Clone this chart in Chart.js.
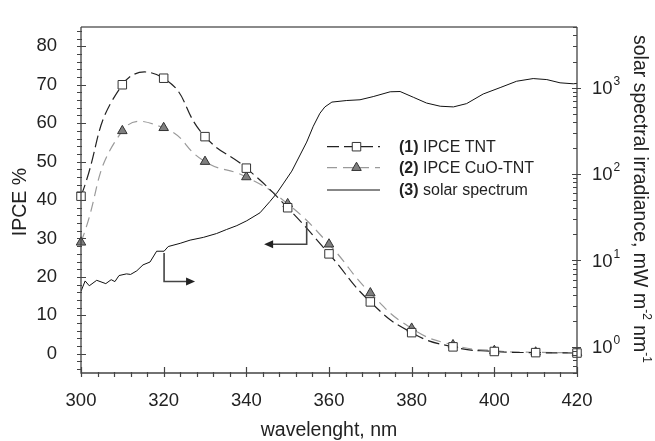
<!DOCTYPE html>
<html>
<head>
<meta charset="utf-8">
<script src="https://cdn.jsdelivr.net/npm/chart.js@4/dist/chart.umd.min.js"></script>
<style>
  html, body { margin: 0; padding: 0; background: #fff; }
  #c { display: block; }
</style>
</head>
<body>
<canvas id="c" width="655" height="441"></canvas>
<script>
// IPCE data
let wavelengths = [300, 310, 320, 330, 340, 350, 360, 370, 380, 390, 400, 410, 420];
let ipceTNT = [41, 70, 71.7, 56.5, 48.3, 38, 26, 13.5, 5.5, 1.8, 0.6, 0.3, 0.2];
let ipceCuO = [29, 58, 58.8, 50, 46, 39, 28.5, 15.8, 6.6, 2.3, 0.8, 0.4, 0.3];

// solar spectrum (right, log axis)
let solarWl = [300, 301, 302, 303.8, 306, 307.3, 308.2, 309.2, 311, 312, 313.5, 315, 316.7, 318.3, 320.1, 321.1,
  324, 326.4, 329.6, 332.8, 335.2, 337.7, 340.1, 343.3, 345.7, 347.3, 348.9, 351, 353, 354.6, 356.2, 357.8,
  359, 360.7, 364.3, 367.5, 370.7, 374.8, 377.2, 380.4, 383.6, 386.9, 390.1, 393.3, 397.3, 401.4, 405.4,
  409.4, 412.7, 415.9, 419.1, 420];
let solarIrr = [4.4, 5.8, 5.1, 5.9, 5.4, 6.0, 5.7, 6.7, 7.0, 6.9, 7.6, 8.9, 9.6, 12.8, 12.8, 14.5,
  15.8, 17.2, 18.5, 20.5, 22.8, 25.3, 28.8, 35.6, 48.1, 59.4, 76.8, 108, 166, 234, 357, 504,
  597, 679, 708, 722, 786, 893, 900, 772, 662, 608, 597, 652, 842, 998, 1183,
  1270, 1236, 1134, 1105, 1116];

// tick labels
let xTicks = [300, 320, 340, 360, 380, 400, 420];
let yTicks = [0, 10, 20, 30, 40, 50, 60, 70, 80];
let y2Exps = [0, 1, 2, 3];

let legendLabels = [['(1)', ' IPCE TNT'], ['(2)', ' IPCE CuO-TNT'], ['(3)', ' solar spectrum']];

// arrows pointing to the axis each curve belongs to: [x1,y1,x2,y2,x3,y3] in data units of the left axis
let arrowPaths = [
  [320.1, 26.2, 320.1, 18.8, 327.6, 18.8],
  [354.6, 34.3, 354.6, 28.5, 344.3, 28.5]
];

const FONT = '"Liberation Sans", Arial, sans-serif';
const TICK_PX = 18.5;
const TITLE_PX = 19.5;

function pairs(xs, ys) {
  return xs.map(function(v, i) { return {x: v, y: ys[i]}; });
}

function arrowHead(ctx, x, y, dir) {
  ctx.beginPath();
  ctx.moveTo(x, y);
  ctx.lineTo(x - dir * 9, y - 4);
  ctx.lineTo(x - dir * 9, y + 4);
  ctx.closePath();
  ctx.fill();
}

const deco = {
  id: 'deco',
  afterDraw(chart) {
    let ctx = chart.ctx;
    let a = chart.chartArea;
    let sx = chart.scales.x, sy = chart.scales.y, sy2 = chart.scales.y2;
    ctx.save();

    // frame
    ctx.strokeStyle = '#8a8a8a';
    ctx.lineWidth = 2;
    ctx.beginPath();
    ctx.moveTo(a.left, a.top); ctx.lineTo(a.right, a.top);
    ctx.stroke();
    ctx.strokeStyle = '#444';
    ctx.lineWidth = 1.3;
    ctx.beginPath();
    ctx.moveTo(a.left, a.top); ctx.lineTo(a.left, a.bottom); ctx.lineTo(a.right, a.bottom); ctx.lineTo(a.right, a.top);
    ctx.stroke();

    // x ticks
    ctx.lineWidth = 1.2;
    ctx.beginPath();
    for (let v = 300; v <= 420; v += 4) {
      let px = Math.round(sx.getPixelForValue(v)) + 0.5;
      let major = v % 20 === 0;
      ctx.moveTo(px, a.bottom - (major ? 6 : 1));
      ctx.lineTo(px, a.bottom + 4);
    }
    // left y ticks
    for (let v = -4; v <= 84; v += 2) {
      let py = Math.round(sy.getPixelForValue(v)) + 0.5;
      let major = v % 10 === 0;
      ctx.moveTo(a.left - 4, py);
      ctx.lineTo(a.left + (major ? 5 : 1), py);
    }
    // right log ticks
    for (let e = -1; e <= 3; e++) {
      for (let m = 1; m <= 9; m++) {
        let v = m * Math.pow(10, e);
        if (v < 0.5 || v > 5000) continue;
        let py = Math.round(sy2.getPixelForValue(v)) + 0.5;
        if (m === 1) {
          ctx.moveTo(a.right - 5, py); ctx.lineTo(a.right + 4, py);
        } else {
          ctx.moveTo(a.right - 4, py); ctx.lineTo(a.right, py);
        }
      }
    }
    ctx.stroke();

    // right axis labels 10^n
    ctx.fillStyle = '#222';
    ctx.textBaseline = 'middle';
    ctx.textAlign = 'left';
    y2Exps.forEach(function(e) {
      let py = sy2.getPixelForValue(Math.pow(10, e));
      ctx.font = TICK_PX + 'px ' + FONT;
      ctx.fillText('10', a.right + 15, py + 1);
      let w = ctx.measureText('10').width;
      ctx.font = '12px ' + FONT;
      ctx.fillText(String(e), a.right + 15 + w + 1, py - 6);
    });

    // axis titles
    ctx.font = TITLE_PX + 'px ' + FONT;
    ctx.textAlign = 'center';
    ctx.fillText('wavelenght, nm', (a.left + a.right) / 2, 431);
    ctx.save();
    ctx.translate(21, (a.top + a.bottom) / 2 + 2);
    ctx.rotate(-Math.PI / 2);
    ctx.fillText('IPCE %', 0, 0);
    ctx.restore();

    // right title with superscripts
    let parts = [['solar spectral irradiance, mW m', 0], ['-2', 1], [' nm', 0], ['-1', 1]];
    let total = 0;
    parts.forEach(function(p) {
      ctx.font = (p[1] ? '12px ' : TITLE_PX + 'px ') + FONT;
      total += ctx.measureText(p[0]).width;
    });
    ctx.save();
    ctx.translate(639, 199);
    ctx.rotate(Math.PI / 2);
    ctx.textAlign = 'left';
    let cx = -total / 2;
    parts.forEach(function(p) {
      ctx.font = (p[1] ? '12px ' : TITLE_PX + 'px ') + FONT;
      ctx.fillText(p[0], cx, p[1] ? -7 : 0);
      cx += ctx.measureText(p[0]).width;
    });
    ctx.restore();

    // arrows
    ctx.strokeStyle = '#444';
    ctx.fillStyle = '#222';
    ctx.lineWidth = 1.6;
    arrowPaths.forEach(function(p) {
      let x1 = sx.getPixelForValue(p[0]), y1 = sy.getPixelForValue(p[1]);
      let x2 = sx.getPixelForValue(p[2]), y2 = sy.getPixelForValue(p[3]);
      let x3 = sx.getPixelForValue(p[4]), y3 = sy.getPixelForValue(p[5]);
      let dir = x3 > x2 ? 1 : -1;
      ctx.beginPath();
      ctx.moveTo(x1, y1); ctx.lineTo(x2, y2); ctx.lineTo(x3 - dir * 8, y3);
      ctx.stroke();
      arrowHead(ctx, x3, y3, dir);
    });

    // legend
    let ds = chart.data.datasets;
    let rows = [146.7, 167.7, 190];
    rows.forEach(function(ry, i) {
      let d = ds[i];
      ctx.save();
      ctx.strokeStyle = d.borderColor;
      ctx.lineWidth = d.borderWidth;
      ctx.setLineDash(d.borderDash || []);
      ctx.beginPath();
      ctx.moveTo(327, ry); ctx.lineTo(380, ry);
      ctx.stroke();
      ctx.restore();
      if (d.pointRadius > 0) {
        ctx.fillStyle = d.pointBackgroundColor;
        ctx.strokeStyle = d.pointBorderColor;
        ctx.lineWidth = 1;
        Chart.helpers.drawPoint(ctx, {pointStyle: d.pointStyle, radius: d.pointRadius, borderWidth: 1, rotation: 0}, 356.5, ry);
      }
      ctx.fillStyle = '#222';
      ctx.textAlign = 'left';
      ctx.textBaseline = 'middle';
      ctx.font = 'bold 16px ' + FONT;
      ctx.fillText(legendLabels[i][0], 399, ry + 1);
      let w = ctx.measureText(legendLabels[i][0]).width;
      ctx.font = '16px ' + FONT;
      ctx.fillText(legendLabels[i][1], 399 + w, ry + 1);
    });

    ctx.restore();
  }
};

let ctx = document.getElementById('c');
let myChart = new Chart(ctx, {
  type: 'line',
  data: {
    datasets: [{
      label: 'IPCE TNT',
      data: pairs(wavelengths, ipceTNT),
      yAxisID: 'y',
      borderColor: '#222',
      borderWidth: 1.2,
      borderDash: [12, 5],
      tension: 0.5,
      pointStyle: 'rect',
      pointRadius: 6,
      pointBackgroundColor: '#fff',
      pointBorderColor: '#333',
      pointBorderWidth: 1,
      clip: false
    }, {
      label: 'IPCE CuO-TNT',
      data: pairs(wavelengths, ipceCuO),
      yAxisID: 'y',
      borderColor: '#9a9a9a',
      borderWidth: 1.2,
      borderDash: [10, 6],
      tension: 0.5,
      pointStyle: 'triangle',
      pointRadius: 5.5,
      pointBackgroundColor: '#7f7f7f',
      pointBorderColor: '#333',
      pointBorderWidth: 1,
      clip: false
    }, {
      label: 'solar spectrum',
      data: pairs(solarWl, solarIrr),
      yAxisID: 'y2',
      borderColor: '#111',
      borderWidth: 1,
      pointRadius: 0,
      tension: 0
    }]
  },
  options: {
    responsive: false,
    animation: false,
    devicePixelRatio: 1,
    layout: { padding: { top: 15, left: 0, right: 0, bottom: 0 } },
    plugins: { legend: { display: false }, tooltip: { enabled: false } },
    scales: {
      x: {
        type: 'linear',
        min: 300, max: 420,
        grid: { display: false },
        border: { display: false },
        afterBuildTicks: function(s) { s.ticks = xTicks.map(function(v) { return {value: v}; }); },
        ticks: {
          padding: 9, color: '#222', autoSkip: false, maxRotation: 0,
          font: { size: TICK_PX, family: FONT }
        },
        afterFit: function(s) { s.height = 441 - 15 - 358; }
      },
      y: {
        position: 'left',
        min: -5, max: 85,
        grid: { display: false },
        border: { display: false },
        afterBuildTicks: function(s) { s.ticks = yTicks.map(function(v) { return {value: v}; }); },
        ticks: {
          padding: 16, color: '#222', autoSkip: false,
          font: { size: TICK_PX, family: FONT }
        },
        afterFit: function(s) { s.width = 81; }
      },
      y2: {
        type: 'logarithmic',
        position: 'right',
        min: 0.5, max: 5000,
        grid: { display: false },
        border: { display: false },
        ticks: { display: false },
        afterFit: function(s) { s.width = 78; }
      }
    }
  },
  plugins: [deco]
});
</script>
</body>
</html>
